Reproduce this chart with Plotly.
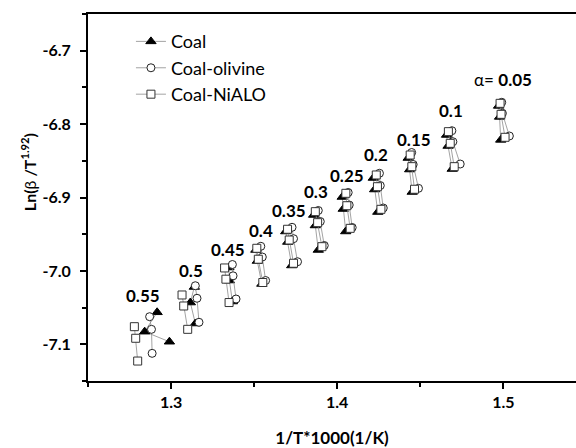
import plotly.graph_objects as go

# Conversion levels (alpha) and, per level, three heating rates for each sample
alphas = ["0.55", "0.5", "0.45", "0.4", "0.35", "0.3", "0.25", "0.2", "0.15", "0.1", "0.05"]

# 1/T*1000 (1/K)
coal_x = [[1.2916, 1.2841, 1.2990], [1.3140, 1.3116, 1.3146], [1.3348, 1.3351, 1.3369],
          [1.3510, 1.3519, 1.3546], [1.3690, 1.3702, 1.3726], [1.3858, 1.3868, 1.3886],
          [1.4030, 1.4036, 1.4051], [1.4217, 1.4225, 1.4244], [1.4427, 1.4436, 1.4451],
          [1.4658, 1.4667, 1.4692], [1.4971, 1.4977, 1.4984]]
coal_y = [[-7.0564, -7.0828, -7.0965], [-7.0219, -7.0431, -7.0717], [-6.9954, -7.0131, -7.0417],
          [-6.9715, -6.9865, -7.0178], [-6.9463, -6.9606, -6.9926], [-6.9238, -6.9381, -6.9715],
          [-6.8993, -6.9157, -6.9463], [-6.8734, -6.8891, -6.9198], [-6.8462, -6.8619, -6.8925],
          [-6.8148, -6.8298, -6.8612], [-6.7752, -6.7902, -6.8215]]

olivine_x = [[1.2871, 1.2882, 1.2886], [1.3146, 1.3156, 1.3168], [1.3369, 1.3373, 1.3391],
             [1.3540, 1.3549, 1.3569], [1.3728, 1.3737, 1.3761], [1.3886, 1.3898, 1.3922],
             [1.4066, 1.4072, 1.4090], [1.4254, 1.4259, 1.4277], [1.4448, 1.4457, 1.4489],
             [1.4690, 1.4696, 1.4740], [1.4990, 1.4994, 1.5036]]
olivine_y = [[-7.0624, -7.0796, -7.1123], [-7.0202, -7.0373, -7.0700], [-6.9913, -7.0067, -7.0383],
             [-6.9665, -6.9811, -7.0131], [-6.9406, -6.9561, -6.9875], [-6.9177, -6.9327, -6.9654],
             [-6.8932, -6.9102, -6.9409], [-6.8670, -6.8837, -6.9143], [-6.8387, -6.8550, -6.8875],
             [-6.8090, -6.8240, -6.8544], [-6.7703, -6.7853, -6.8162]]

nialo_x = [[1.2779, 1.2787, 1.2799], [1.3066, 1.3076, 1.3100], [1.3322, 1.3330, 1.3349],
           [1.3516, 1.3525, 1.3552], [1.3701, 1.3711, 1.3737], [1.3868, 1.3882, 1.3908],
           [1.4052, 1.4058, 1.4078], [1.4235, 1.4242, 1.4263], [1.4439, 1.4449, 1.4465],
           [1.4669, 1.4680, 1.4704], [1.4980, 1.4986, 1.5010]]
nialo_y = [[-7.0760, -7.0918, -7.1228], [-7.0328, -7.0478, -7.0796], [-6.9960, -7.0113, -7.0431],
           [-6.9692, -6.9841, -7.0158], [-6.9433, -6.9579, -6.9896], [-6.9193, -6.9343, -6.9670],
           [-6.8943, -6.9112, -6.9420], [-6.8693, -6.8853, -6.9161], [-6.8421, -6.8580, -6.8888],
           [-6.8103, -6.8262, -6.8580], [-6.7717, -6.7867, -6.8180]]

# Where each alpha label sits (data coordinates)
label_x = [1.2829, 1.3122, 1.3340, 1.3541, 1.3711, 1.3872, 1.4058, 1.4233, 1.4459, 1.4684, 1.5000]
label_y = [-7.0338, -6.9997, -6.9702, -6.9452, -6.9180, -6.8921, -6.8703, -6.8411, -6.8207, -6.7817, -6.7390]

x_ticks = [1.3, 1.4, 1.5]
x_tick_text = ["1.3", "1.4", "1.5"]
x_minor = [1.25, 1.35, 1.45]
y_ticks = [-7.1, -7.0, -6.9, -6.8, -6.7]
y_tick_text = ["-7.1", "-7.0", "-6.9", "-6.8", "-6.7"]
y_minor = [-7.15, -7.05, -6.95, -6.85, -6.75, -6.65]

FONT = "Lato, 'Open Sans', sans-serif"


def joined(groups):
    """Flatten per-alpha groups, breaking the line between groups."""
    out = []
    for g in groups:
        out.extend(g)
        out.append(None)
    return out


fig = go.Figure()

series = [
    ("Coal", coal_x, coal_y, dict(symbol="triangle-up", size=9, color="black",
                                  line=dict(color="black", width=1))),
    ("Coal-olivine", olivine_x, olivine_y, dict(symbol="circle", size=8, color="white",
                                                line=dict(color="#222222", width=1))),
    ("Coal-NiALO", nialo_x, nialo_y, dict(symbol="square", size=8, color="white",
                                          line=dict(color="#333333", width=1))),
]

for name, xs, ys, marker in series:
    fig.add_trace(go.Scatter(
        x=joined(xs), y=joined(ys), name=name, mode="lines+markers",
        line=dict(color="#8c8c8c", width=0.8), marker=marker,
        connectgaps=False,
    ))

for i, a in enumerate(alphas):
    text = "<b>%s</b>" % a if a != "0.05" else "α= <b>%s</b>" % a
    fig.add_annotation(x=label_x[i], y=label_y[i], text=text, showarrow=False,
                       font=dict(family=FONT, size=17, color="black"),
                       xanchor="center", yanchor="middle")

# Rotated y-axis title, placed a little above the axis midpoint
fig.add_annotation(xref="paper", yref="paper", x=-0.123, y=0.569,
                   text="<b>Ln(</b>β<b> /T<sup>1.92</sup>)</b>", textangle=-90,
                   showarrow=False, font=dict(family=FONT, size=16, color="black"),
                   xanchor="center", yanchor="middle")

fig.update_layout(
    width=576, height=448,
    margin=dict(l=88, r=0, t=14, b=67),
    paper_bgcolor="white", plot_bgcolor="white",
    font=dict(family=FONT, color="black"),
    showlegend=True,
    legend=dict(x=0.088, y=0.975, xanchor="left", yanchor="top",
                bgcolor="rgba(0,0,0,0)", font=dict(family=FONT, size=18),
                itemwidth=30, tracegroupgap=0),
    xaxis=dict(
        range=[1.25, 1.5437], showgrid=False, zeroline=False,
        showline=True, linecolor="black", linewidth=2, mirror=True,
        ticks="outside", ticklen=6, tickwidth=2, tickcolor="black",
        tickmode="array", tickvals=x_ticks, ticktext=x_tick_text,
        tickfont=dict(family=FONT, size=16, weight="bold"),
        ticklabelstandoff=0,
        minor=dict(tickmode="array", tickvals=x_minor, ticks="outside",
                   ticklen=4, tickwidth=2, tickcolor="black"),
        title=dict(text="<b>1/T*1000(1/K)</b>", font=dict(family=FONT, size=17), standoff=23),
    ),
    yaxis=dict(
        range=[-7.15, -6.65], showgrid=False, zeroline=False,
        showline=True, linecolor="black", linewidth=2, mirror=False,
        ticks="outside", ticklen=6, tickwidth=2, tickcolor="black",
        tickmode="array", tickvals=y_ticks, ticktext=y_tick_text,
        tickfont=dict(family=FONT, size=16, weight="bold"),
        ticklabelstandoff=6,
        minor=dict(tickmode="array", tickvals=y_minor, ticks="outside",
                   ticklen=4, tickwidth=2, tickcolor="black"),
    ),
)

fig.write_html("out.html")
